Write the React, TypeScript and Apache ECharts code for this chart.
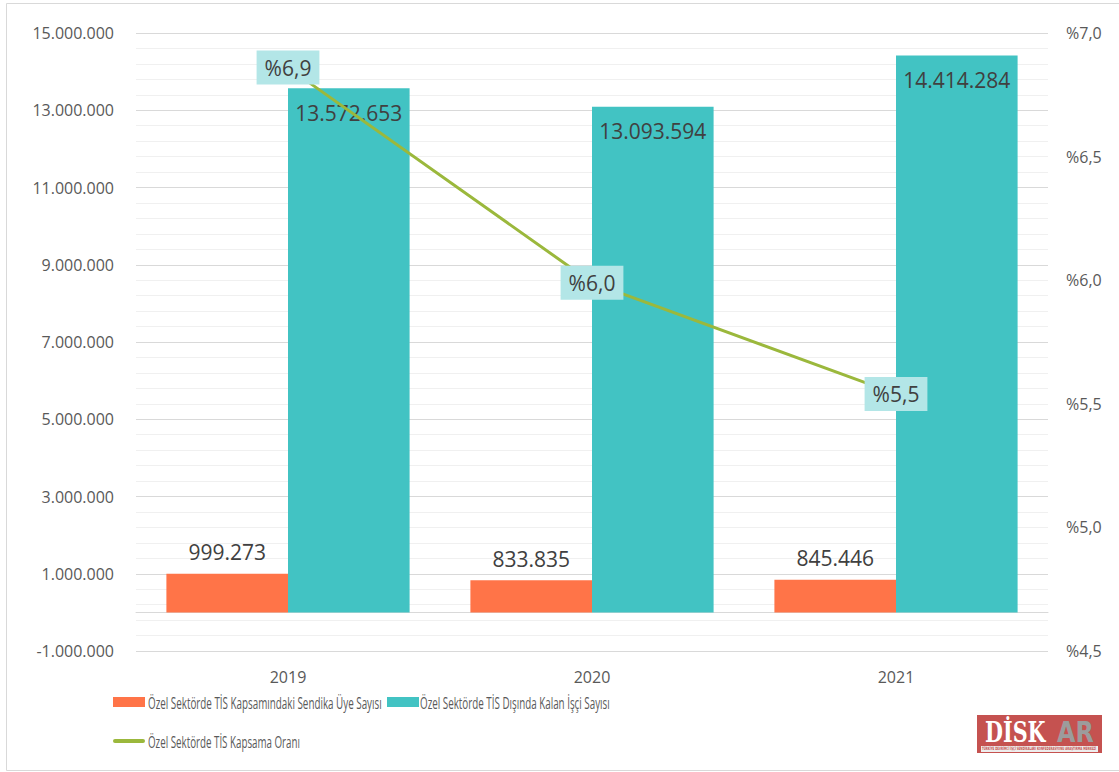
import React, { useEffect, useRef } from "react";
import * as echarts from "echarts";

const categories = ["2019", "2020", "2021"];
const memberCounts = [999273, 833835, 845446];
const outsideCounts = [13572653, 13093594, 14414284];
const coverageRates = [6.86, 5.99, 5.54];

const seriesNames = [
  "Özel Sektörde TİS Kapsamındaki Sendika Üye Sayısı",
  "Özel Sektörde TİS Dışında Kalan İşçi Sayısı",
  "Özel Sektörde TİS Kapsama Oranı",
];

const leftAxisMin = -1000000;
const leftAxisMax = 15000000;
const leftAxisStep = 2000000;
const rightAxisMin = 4.5;
const rightAxisMax = 7.0;
const rightAxisStep = 0.5;

const ORANGE = "#ff7448";
const TEAL = "#42c3c3";
const GREEN = "#9bb83c";
const TXT = "#404040";
const AX = "#595959";
const NUMFONT = "'Open Sans', 'Liberation Sans', sans-serif";
const LEGFONT = "'Open Sans', 'Liberation Sans', sans-serif";
const LEGSIZE = 17;
const LOGO_SUB = "TÜRKİYE DEVRİMCİ İŞÇİ SENDİKALARI KONFEDERASYONU ARAŞTIRMA MERKEZİ";

function fmtThousands(v: number): string {
  const s = Math.abs(Math.round(v))
    .toString()
    .replace(/\B(?=(\d{3})+(?!\d))/g, ".");
  return (v < 0 ? "-" : "") + s;
}
function fmtPct(v: number): string {
  return "%" + v.toFixed(1).replace(".", ",");
}

function measure(text: string, font: string): number {
  const c = document.createElement("canvas");
  const ctx = c.getContext("2d");
  if (!ctx) return text.length * 8;
  ctx.font = font;
  return ctx.measureText(text).width;
}

export default function App() {
  const ref = useRef<HTMLDivElement>(null);
  useEffect(() => {
    document.body.style.margin = "0";
    if (!ref.current) return;
    const chart = echarts.init(ref.current, null, { renderer: "svg" });

    const legFont = `${LEGSIZE}px ${LEGFONT}`;
    const legendLayout = [
      { name: seriesNames[0], tx: 148, w: 234, cy: 702, kind: "bar", color: ORANGE, ix: 113 },
      { name: seriesNames[1], tx: 420, w: 190, cy: 702, kind: "bar", color: TEAL, ix: 387 },
      { name: seriesNames[2], tx: 148, w: 152, cy: 741, kind: "line", color: GREEN, ix: 113 },
    ];
    const legendGraphics: any[] = [];
    legendLayout.forEach((it) => {
      if (it.kind === "bar") {
        legendGraphics.push({
          type: "rect",
          shape: { x: it.ix, y: it.cy - 5, width: 32, height: 10 },
          style: { fill: it.color },
        });
      } else {
        legendGraphics.push({
          type: "line",
          shape: { x1: it.ix + 2, y1: it.cy, x2: it.ix + 30, y2: it.cy },
          style: { stroke: it.color, lineWidth: 4, lineCap: "round" },
        });
      }
      const mw = measure(it.name, legFont);
      legendGraphics.push({
        type: "text",
        x: it.tx,
        y: it.cy,
        scaleX: mw > 0 ? it.w / mw : 0.6,
        style: {
          text: it.name,
          fill: AX,
          fontSize: LEGSIZE,
          fontFamily: LEGFONT,
          align: "left",
          verticalAlign: "middle",
        },
      });
    });

    const subFont = "bold 10px 'DejaVu Sans', sans-serif";
    const subW = measure(LOGO_SUB, subFont);
    const subScaleX = subW > 0 ? 114 / subW : 0.3;

    chart.setOption({
      animation: false,
      backgroundColor: "#ffffff",
      grid: { left: 136, right: 71, top: 33, bottom: 121, containLabel: false },
      xAxis: {
        type: "category",
        data: categories,
        axisLine: { show: true, onZero: true, lineStyle: { color: "#d9d9d9", width: 1 } },
        axisTick: { show: false },
        axisLabel: { color: AX, fontSize: 16, fontFamily: NUMFONT, margin: 18 },
      },
      yAxis: [
        {
          type: "value",
          min: leftAxisMin,
          max: leftAxisMax,
          interval: leftAxisStep,
          axisLine: { show: false },
          axisTick: { show: false },
          axisLabel: {
            color: AX,
            fontSize: 16,
            fontFamily: NUMFONT,
            margin: 22,
            formatter: (v: number) => fmtThousands(v),
          },
          splitLine: { show: true, lineStyle: { color: "#d9d9d9", width: 1 } },
          minorTick: { show: false, splitNumber: 5 },
          minorSplitLine: { show: true, lineStyle: { color: "#f0f0f0", width: 1 } },
        },
        {
          type: "value",
          min: rightAxisMin,
          max: rightAxisMax,
          interval: rightAxisStep,
          position: "right",
          axisLine: { show: false },
          axisTick: { show: false },
          splitLine: { show: false },
          axisLabel: {
            color: AX,
            fontSize: 16,
            fontFamily: NUMFONT,
            margin: 18,
            formatter: (v: number) => fmtPct(v),
          },
        },
      ],
      series: [
        {
          name: seriesNames[0],
          type: "bar",
          data: memberCounts,
          barGap: "0%",
          barCategoryGap: "20%",
          itemStyle: { color: ORANGE },
          label: {
            show: true,
            position: "top",
            distance: 11,
            color: TXT,
            fontSize: 21,
            fontFamily: NUMFONT,
            formatter: (p: any) => fmtThousands(p.value),
          },
          z: 2,
        },
        {
          name: seriesNames[1],
          type: "bar",
          data: outsideCounts,
          itemStyle: { color: TEAL },
          label: {
            show: true,
            position: "insideTop",
            distance: 14,
            color: TXT,
            fontSize: 21,
            fontFamily: NUMFONT,
            formatter: (p: any) => fmtThousands(p.value),
          },
          z: 2,
        },
        {
          name: seriesNames[2],
          type: "line",
          yAxisIndex: 1,
          data: coverageRates,
          symbol: "circle",
          symbolSize: 1,
          itemStyle: { color: GREEN },
          lineStyle: { color: GREEN, width: 3 },
          label: {
            show: true,
            position: "inside",
            color: TXT,
            fontSize: 21,
            fontFamily: NUMFONT,
            backgroundColor: "#b3e6e7",
            padding: [7, 8, 6, 8],
            formatter: (p: any) => fmtPct(p.value),
          },
          z: 5,
        },
      ],
      graphic: [
        {
          type: "rect",
          shape: { x: 6.5, y: 3.5, width: 1120, height: 767 },
          style: { fill: "none", stroke: "#d9d9d9", lineWidth: 1 },
          silent: true,
          z: -1,
        },
        { type: "group", children: legendGraphics },
        {
          type: "group",
          children: [
            {
              type: "rect",
              shape: { x: 977, y: 715, width: 125, height: 38 },
              style: { fill: "#c55250" },
            },
            {
              type: "rect",
              shape: { x: 981, y: 746, width: 117, height: 6 },
              style: { fill: "#ededed" },
            },
            {
              type: "text",
              x: 985,
              y: 732,
              scaleX: 0.74,
              style: {
                text: "DİSK",
                fill: "#ffffff",
                fontSize: 28,
                fontWeight: "bold",
                fontFamily: "'DejaVu Serif', serif",
                align: "left",
                verticalAlign: "middle",
              },
            },
            {
              type: "text",
              x: 1057,
              y: 732,
              scaleX: 0.85,
              style: {
                text: "AR",
                fill: "#9c9c9c",
                fontSize: 28,
                fontWeight: "bold",
                fontFamily: "'DejaVu Sans', sans-serif",
                align: "left",
                verticalAlign: "middle",
              },
            },
            {
              type: "text",
              x: 982,
              y: 749,
              scaleX: subScaleX,
              scaleY: 0.45,
              style: {
                text: LOGO_SUB,
                fill: "#c55250",
                fontSize: 10,
                fontWeight: "bold",
                fontFamily: "'DejaVu Sans', sans-serif",
                align: "left",
                verticalAlign: "middle",
              },
            },
          ],
        },
      ],
    });
    return () => chart.dispose();
  }, []);
  return <div ref={ref} style={{ width: 1119, height: 772 }} />;
}
